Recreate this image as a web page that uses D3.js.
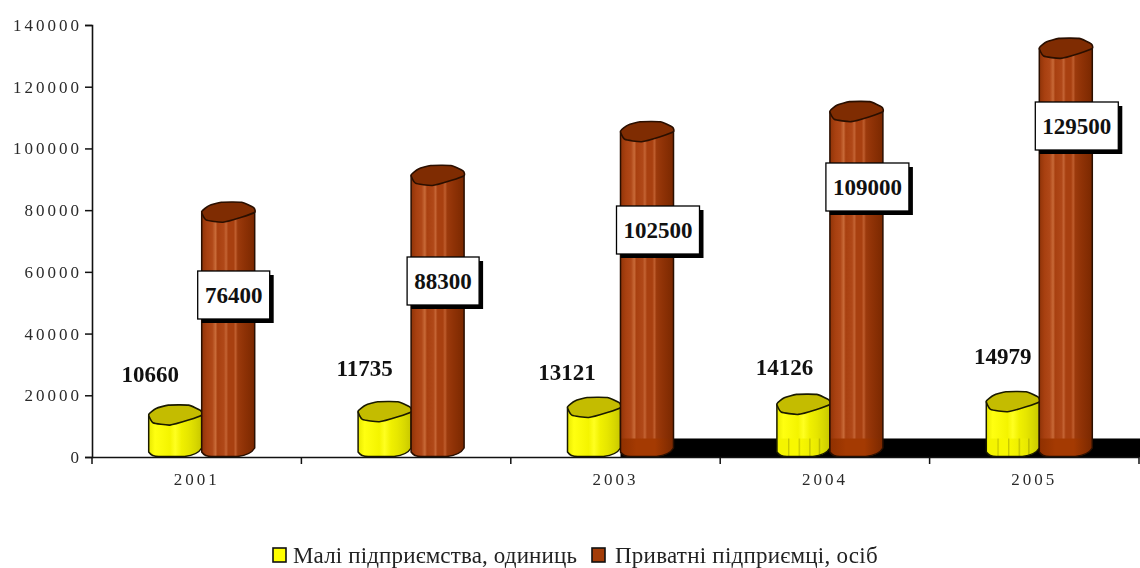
<!DOCTYPE html>
<html>
<head>
<meta charset="utf-8">
<script src="https://cdn.jsdelivr.net/npm/d3@7"></script>
<style>
  html, body { margin: 0; padding: 0; background: #fff; }
  svg { display: block; filter: blur(0.45px); }
</style>
</head>
<body>
<div id="chart"></div>
<script>
// Chart data
const years = ["2001", "2002", "2003", "2004", "2005"];
const yearLabels = ["2001", "", "2003", "2004", "2005"];
const smallFirms = [10660, 11735, 13121, 14126, 14979];
const entrepreneurs = [76400, 88300, 102500, 109000, 129500];
const legendLabels = ["Малі підприємства, одиниць", "Приватні підприємці, осіб"];
const yTicks = [0, 20000, 40000, 60000, 80000, 100000, 120000, 140000];

// Layout only: where the hand placed labels sit, relative to the bars
const boxCenters = [295, 281, 230, 187, 126];
const smallLabelOffsets = [[-25, -49], [-20, -52], [-27, -44], [-19, -45], [-10, -54]];

const width = 1140;
const height = 568;
const serif = "'Liberation Serif', 'Times New Roman', serif";

const svg = d3.select("#chart")
  .append("svg")
  .attr("width", width)
  .attr("height", height);

const x = d3.scaleBand().domain(years).range([92, 1139]);
const y = d3.scaleLinear().domain([0, 140000]).range([457, 25]);

const barWidth = 53;
const depth = 9;
const topHeight = 20;

// Outline of the cylinder top, as fractions of its box (it is a tilted, rough octagon)
const topShape = [[0, .47], [.14, .17], [.37, 0], [.75, 0], [.98, .27], [1, .5], [.75, .75], [.4, 1], [.08, .88]];
const topLine = d3.line().curve(d3.curveCardinalClosed.tension(0.5));

// Vertical stripe gradients for the cylinder sides
const defs = svg.append("defs");
function sideGradient(id, stops) {
  const g = defs.append("linearGradient").attr("id", id);
  stops.forEach(function(s) {
    g.append("stop").attr("offset", s[0]).attr("stop-color", s[1]);
  });
}
sideGradient("yellowSide", [
  [0, "#e8e800"], [0.12, "#ffff10"], [0.4, "#f4f400"], [0.5, "#ffff20"],
  [0.62, "#f0f000"], [0.75, "#e6e600"], [0.88, "#d8d800"], [1, "#c8c800"]
]);
sideGradient("brownSide", [
  [0, "#8f3408"], [0.1, "#a84010"], [0.2, "#b04818"], [0.26, "#c86a38"], [0.3, "#a84010"],
  [0.42, "#b04818"], [0.46, "#c46434"], [0.5, "#a84010"], [0.6, "#a84010"], [0.64, "#bf5e2e"],
  [0.68, "#9c3a0c"], [0.8, "#8f3206"], [1, "#7a2800"]
]);
sideGradient("yellowLow", [
  [0, "#f4f400"], [0.2, "#f4f400"], [0.22, "#c8c800"], [0.25, "#f8f800"], [0.4, "#f8f800"], [0.42, "#c8c800"],
  [0.45, "#f8f800"], [0.6, "#f0f000"], [0.62, "#c0c000"], [0.65, "#f0f000"], [0.78, "#e8e800"], [0.8, "#b8b800"],
  [0.83, "#e0e000"], [1, "#c8c800"]
]);
sideGradient("brownLow", [
  [0, "#8f3000"], [0.3, "#a43a02"], [0.65, "#a43a02"], [1, "#7a2800"]
]);

// Black floor strip behind the last three groups
const floorLeft = x("2003") + x.bandwidth() / 2 + 5;
svg.append("rect")
  .attr("x", floorLeft)
  .attr("y", y(6000))
  .attr("width", width - floorLeft)
  .attr("height", y(0) - y(6000))
  .attr("fill", "#000");

// One cylinder: side, optional darker part over the floor, outline, then the top
function cylinder(group, left, value, side, low, top, stroke) {
  const right = left + barWidth;
  const yTop = y(value) - depth;
  const base = y(0);
  const outline = function(from) {
    return `M${left},${from} L${left},${base - 5} Q${left + 3},${base - .5} ${left + 10},${base - .5}`
      + ` L${left + 36},${base - .5} Q${right - 4},${base - 2} ${right},${base - 9} L${right},${from} Z`;
  };
  group.append("path")
    .attr("d", outline(yTop))
    .attr("fill", `url(#${side})`);
  if (low) {
    group.append("path")
      .attr("d", outline(y(6000)))
      .attr("fill", `url(#${low})`);
  }
  group.append("path")
    .attr("d", outline(yTop))
    .attr("fill", "none")
    .attr("stroke", stroke)
    .attr("stroke-width", 1.5)
    .attr("stroke-linejoin", "round");
  const pts = topShape.map(function(p) {
    return [left + p[0] * barWidth, yTop - topHeight / 2 + p[1] * topHeight];
  });
  group.append("path")
    .attr("d", topLine(pts))
    .attr("fill", top)
    .attr("stroke", stroke)
    .attr("stroke-width", 1.6);
}

years.forEach(function(year, i) {
  const mid = x(year) + x.bandwidth() / 2 + 5;
  const g = svg.append("g");
  cylinder(g, mid - barWidth, smallFirms[i], "yellowSide", i >= 3 ? "yellowLow" : null, "#c4bc00", "#1a1a00");
  cylinder(g, mid, entrepreneurs[i], "brownSide", i >= 2 ? "brownLow" : null, "#7f2c02", "#2a0f00");
});

// Axes
const yAxis = svg.append("g")
  .attr("transform", "translate(92,0)")
  .call(d3.axisLeft(y).tickValues(yTicks).tickFormat(d3.format("d")).tickSize(7).tickPadding(3));
const xAxis = svg.append("g")
  .attr("transform", `translate(0,${y(0)})`)
  .call(d3.axisBottom(x).tickSize(0).tickPadding(16).tickFormat(function(d, i) { return yearLabels[i]; }));
[yAxis, xAxis].forEach(function(a) {
  a.select(".domain").attr("stroke", "#111").attr("stroke-width", 1.6);
  a.selectAll("line").attr("stroke", "#111").attr("stroke-width", 1.5);
  a.selectAll("text")
    .attr("font-family", serif)
    .attr("font-size", 17)
    .attr("letter-spacing", "3px")
    .attr("fill", "#2a2a2a");
});

// x ticks sit on the band edges
xAxis.selectAll(".edge")
  .data(years.concat("end"))
  .enter()
  .append("line")
  .attr("class", "edge")
  .attr("x1", function(d) { return d === "end" ? x.range()[1] : x(d); })
  .attr("x2", function(d) { return d === "end" ? x.range()[1] : x(d); })
  .attr("y1", 0)
  .attr("y2", 7)
  .attr("stroke", "#111")
  .attr("stroke-width", 1.5);

// Small firm labels
svg.selectAll(".small-label")
  .data(smallFirms)
  .enter()
  .append("text")
  .attr("class", "small-label")
  .attr("x", function(d, i) { return x(years[i]) + x.bandwidth() / 2 + 5 - barWidth / 2 + smallLabelOffsets[i][0]; })
  .attr("y", function(d, i) { return y(d) + smallLabelOffsets[i][1] + 7; })
  .attr("text-anchor", "middle")
  .attr("font-family", serif)
  .attr("font-weight", "bold")
  .attr("font-size", 23)
  .attr("fill", "#111")
  .text(function(d) { return d; });

// Boxed labels with drop shadow
const boxWidth = function(d) { return d >= 100000 ? 83 : 72; };
const boxes = svg.selectAll(".box-label")
  .data(entrepreneurs)
  .enter()
  .append("g")
  .attr("class", "box-label")
  .attr("transform", function(d, i) {
    return `translate(${x(years[i]) + x.bandwidth() / 2 + 5 - 4},${boxCenters[i]})`;
  });
boxes.append("rect")
  .attr("x", 4)
  .attr("y", -24 + 4)
  .attr("width", boxWidth)
  .attr("height", 48)
  .attr("fill", "#000");
boxes.append("rect")
  .attr("y", -24)
  .attr("width", boxWidth)
  .attr("height", 48)
  .attr("fill", "#fff")
  .attr("stroke", "#000")
  .attr("stroke-width", 1.3);
boxes.append("text")
  .attr("x", function(d) { return boxWidth(d) / 2; })
  .attr("y", 8)
  .attr("text-anchor", "middle")
  .attr("font-family", serif)
  .attr("font-weight", "bold")
  .attr("font-size", 23)
  .attr("fill", "#111")
  .text(function(d) { return d; });

// Legend
const legendX = [273, 592];
const legendGap = [20, 23];
const legendSpacing = [0.15, 0.25];
const legendFill = ["#ffff00", "#a33c08"];
const legend = svg.selectAll(".legend")
  .data(legendLabels)
  .enter()
  .append("g")
  .attr("class", "legend")
  .attr("transform", function(d, i) { return `translate(${legendX[i]},548)`; });
legend.append("rect")
  .attr("width", 13)
  .attr("height", 14)
  .attr("fill", function(d, i) { return legendFill[i]; })
  .attr("stroke", "#111")
  .attr("stroke-width", 1.6);
legend.append("text")
  .attr("x", function(d, i) { return legendGap[i]; })
  .attr("y", 15)
  .attr("font-family", serif)
  .attr("font-size", 23)
  .attr("letter-spacing", function(d, i) { return legendSpacing[i] + "px"; })
  .attr("fill", "#222")
  .text(function(d) { return d; });
</script>
</body>
</html>
